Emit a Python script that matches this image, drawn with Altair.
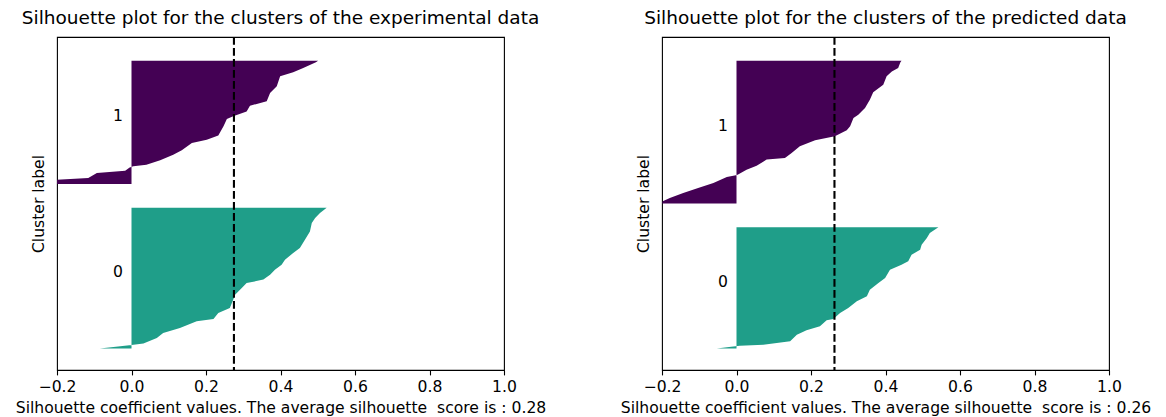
import altair as alt
import pandas as pd

# ---------------- data ----------------
# Left panel: experimental data (silhouette values sorted within cluster, y = sample position)
exp_c0_pos = [10.0, 11.0, 11.6, 12.2, 14.8, 17.1, 19.4, 22.5, 23.6, 26.4, 28.7, 32.5, 34.8,
              37.9, 40.2, 41.8, 44.1, 46.4, 48.7, 51.0, 54.1, 56.4, 60.3, 64.1, 68.0, 70.3,
              72.6, 75.0]
exp_c0_val = [-0.085, -0.03, 0.0, 0.032, 0.068, 0.085, 0.130, 0.175, 0.220, 0.233, 0.264,
              0.273, 0.278, 0.296, 0.309, 0.354, 0.372, 0.385, 0.403, 0.412, 0.434, 0.452,
              0.466, 0.479, 0.484, 0.493, 0.506, 0.524]
exp_c1_pos = [86.0, 88.0, 88.8, 91.1, 92.2, 93.6, 94.2, 94.9, 97.0, 99.6, 101.6, 105.0,
              106.5, 108.4, 112.7, 116.1, 117.3, 119.6, 122.2, 124.3, 128.1, 131.2, 135.8,
              137.7, 139.7, 142.3, 143.0]
exp_c1_val = [-0.20, -0.20, -0.116, -0.093, -0.017, -0.005, 0.005, 0.040, 0.077, 0.112,
              0.135, 0.162, 0.202, 0.233, 0.247, 0.256, 0.273, 0.309, 0.318, 0.363, 0.372,
              0.390, 0.399, 0.434, 0.461, 0.495, 0.501]

# Right panel: predicted data
pred_c0_pos = [10.0, 10.6, 11.2, 11.7, 13.3, 16.3, 18.4, 20.2, 23.0, 23.6, 26.4, 28.7,
               31.8, 34.1, 37.1, 40.2, 42.5, 46.4, 48.7, 50.3, 53.3, 55.6, 57.9, 61.0,
               63.4, 66.0]
pred_c0_val = [-0.053, -0.02, 0.009, 0.072, 0.144, 0.162, 0.188, 0.224, 0.242, 0.260,
               0.278, 0.300, 0.323, 0.350, 0.358, 0.381, 0.399, 0.412, 0.443, 0.461, 0.470,
               0.493, 0.497, 0.511, 0.519, 0.542]
pred_c1_pos = [77.0, 78.0, 79.5, 81.9, 84.2, 86.5, 89.3, 89.9, 90.3, 92.6, 94.5, 97.3,
               98.0, 100.4, 103.5, 106.2, 108.1, 110.9, 112.7, 116.5, 118.1, 121.2, 125.0,
               128.4, 131.9, 135.8, 138.1, 139.7, 142.3, 143.0]
pred_c1_val = [-0.20, -0.198, -0.179, -0.143, -0.103, -0.062, -0.026, -0.005, 0.003, 0.027,
               0.054, 0.081, 0.130, 0.148, 0.170, 0.211, 0.264, 0.296, 0.305, 0.314, 0.327,
               0.345, 0.358, 0.367, 0.394, 0.403, 0.417, 0.434, 0.440, 0.443]

exp_label_pos = [43.0, 115.0]
pred_label_pos = [38.5, 110.5]
label_x = -0.05
cluster_names = ["0", "1"]
cluster_colors = ["#1f9e89", "#440154"]

exp_mean = 0.275
pred_mean = 0.263

x_ticks = [-0.2, 0.0, 0.2, 0.4, 0.6, 0.8, 1.0]
y_max = 154

titles = ["Silhouette plot for the clusters of the experimental data",
          "Silhouette plot for the clusters of the predicted data"]
x_titles = ["Silhouette coefficient values. The average silhouette\u00a0 score is : 0.28",
            "Silhouette coefficient values. The average silhouette\u00a0 score is : 0.26"]
y_title = "Cluster label"

FONT = "DejaVu Sans"
LABEL_SIZE = 15.6
TITLE_SIZE = 18.5


def panel(c0_pos, c0_val, c1_pos, c1_val, label_pos, mean, title, xtitle):
    df = pd.DataFrame({
        "pos": c0_pos + c1_pos,
        "val": c0_val + c1_val,
        "zero": [0.0] * (len(c0_pos) + len(c1_pos)),
        "cluster": [cluster_names[0]] * len(c0_pos) + [cluster_names[1]] * len(c1_pos),
    })
    x_enc = alt.X("val:Q",
                  scale=alt.Scale(domain=[-0.2, 1.0], nice=False, zero=False),
                  axis=alt.Axis(values=x_ticks, format=".1f", title=xtitle,
                                labelFlush=False, labelOverlap=False))
    y_enc = alt.Y("pos:Q",
                  scale=alt.Scale(domain=[0, y_max], nice=False, zero=False),
                  axis=alt.Axis(labels=False, ticks=False, domain=False, grid=False,
                                title=y_title, titlePadding=11))
    area = alt.Chart(df).mark_area(orient="horizontal", clip=True, opacity=1).encode(
        x=x_enc,
        x2="zero:Q",
        y=y_enc,
        color=alt.Color("cluster:N",
                        scale=alt.Scale(domain=cluster_names, range=cluster_colors),
                        legend=None),
    )
    rule_df = pd.DataFrame({"val": [mean]})
    rule = alt.Chart(rule_df).mark_rule(color="black", strokeDash=[7.7, 3.3],
                                        strokeWidth=2.1).encode(x="val:Q")
    lab_df = pd.DataFrame({"pos": label_pos, "val": [label_x] * len(label_pos),
                           "txt": cluster_names})
    text = alt.Chart(lab_df).mark_text(align="left", baseline="alphabetic",
                                       fontSize=LABEL_SIZE, font=FONT,
                                       color="black").encode(
        x="val:Q", y="pos:Q", text="txt:N")
    return alt.layer(area, rule, text).properties(
        width=447, height=333,
        title=alt.TitleParams(text=title, fontSize=TITLE_SIZE, font=FONT,
                              fontWeight="normal", color="black", offset=8),
    )


left = panel(exp_c0_pos, exp_c0_val, exp_c1_pos, exp_c1_val, exp_label_pos, exp_mean,
             titles[0], x_titles[0])
right = panel(pred_c0_pos, pred_c0_val, pred_c1_pos, pred_c1_val, pred_label_pos, pred_mean,
              titles[1], x_titles[1])

chart = alt.hconcat(left, right, spacing=158, bounds="flush").properties(
    padding={"left": 6, "top": 0, "right": 0, "bottom": 0}
).configure_view(
    stroke="black", strokeWidth=1.1
).configure_axis(
    labelFont=FONT, labelFontSize=LABEL_SIZE, labelColor="black",
    titleFont=FONT, titleFontSize=LABEL_SIZE, titleFontWeight="normal", titleColor="black",
    tickColor="black", tickSize=4.9, tickWidth=1.1, grid=False, domain=False,
    labelPadding=5, titlePadding=5,
)

chart.save("out.html", embed_options={"renderer": "svg", "actions": False})
